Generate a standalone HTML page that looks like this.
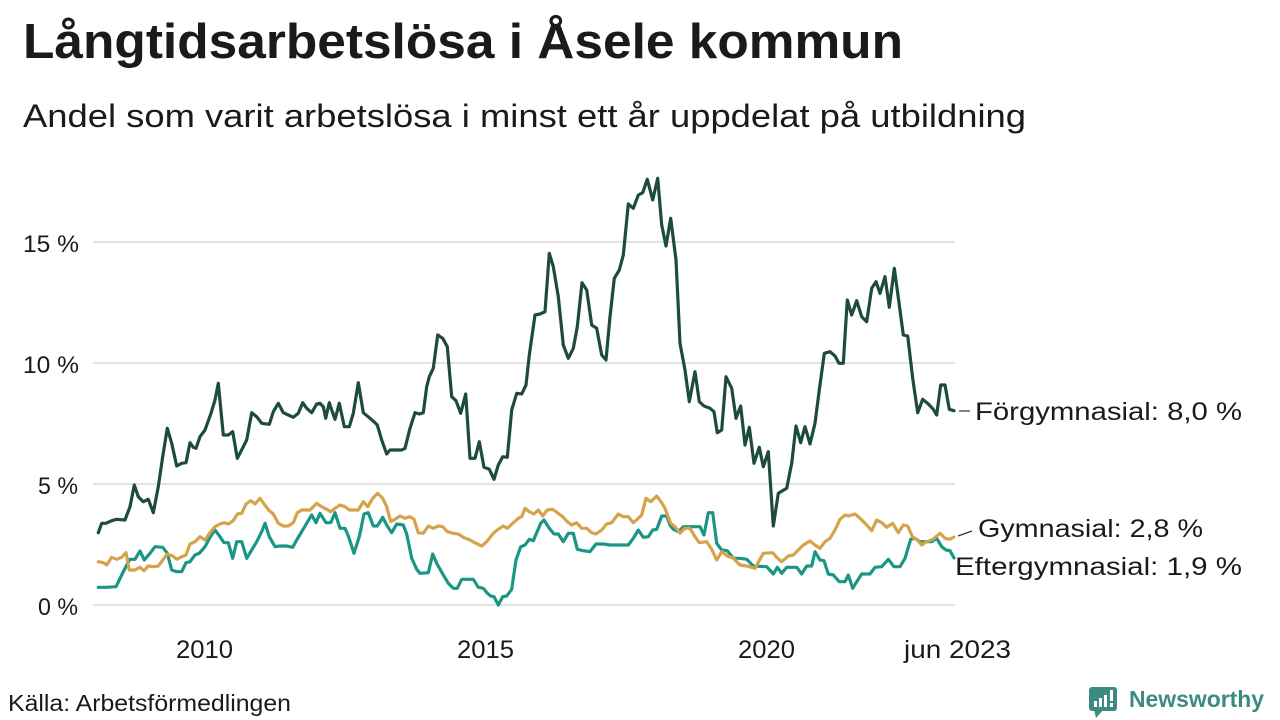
<!DOCTYPE html>
<html>
<head>
<meta charset="utf-8">
<style>
html,body{margin:0;padding:0;background:#fff;}
svg{display:block;}
text{font-family:"Liberation Sans","DejaVu Sans",sans-serif;fill:#1a1a1a;}
</style>
</head>
<body>
<svg width="1280" height="720" viewBox="0 0 1280 720" xmlns="http://www.w3.org/2000/svg">
<rect width="1280" height="720" fill="#fff"/>
<text x="23" y="58" font-size="49" font-weight="bold" textLength="880" lengthAdjust="spacingAndGlyphs">Långtidsarbetslösa i Åsele kommun</text>
<text x="23" y="127" font-size="32" textLength="1003" lengthAdjust="spacingAndGlyphs">Andel som varit arbetslösa i minst ett år uppdelat på utbildning</text>

<g stroke="#e3e3e3" stroke-width="2">
<line x1="93" y1="242" x2="955" y2="242"/>
<line x1="93" y1="363" x2="955" y2="363"/>
<line x1="93" y1="484" x2="955" y2="484"/>
<line x1="93" y1="605" x2="955" y2="605"/>
</g>

<g font-size="24">
<text x="23" y="252" textLength="56" lengthAdjust="spacingAndGlyphs">15 %</text>
<text x="23" y="373" textLength="56" lengthAdjust="spacingAndGlyphs">10 %</text>
<text x="38" y="494" textLength="40" lengthAdjust="spacingAndGlyphs">5 %</text>
<text x="38" y="615" textLength="40" lengthAdjust="spacingAndGlyphs">0 %</text>
</g>
<g font-size="25">
<text x="176" y="658" textLength="57" lengthAdjust="spacingAndGlyphs">2010</text>
<text x="457" y="658" textLength="57" lengthAdjust="spacingAndGlyphs">2015</text>
<text x="738" y="658" textLength="57" lengthAdjust="spacingAndGlyphs">2020</text>
<text x="904" y="658" textLength="107" lengthAdjust="spacingAndGlyphs">jun 2023</text>
</g>

<g fill="none" stroke-width="3.2" stroke-linejoin="round" stroke-linecap="round">
<polyline stroke="#1b9684" points="98.3,587.3 106.7,587.3 116,586.7 121.7,575 126.7,565 130,559.3 135,559.3 140,551 144.3,560 150,553.3 155,546.7 162.7,547.3 167.3,553.3 171.7,570 176.7,571.7 181.7,571.7 186,562.7 190,561.7 195,555 199.3,553.3 205,546.7 210,537.3 215,530 220,536.7 224,542.7 228.3,542.7 232.7,558.3 236.7,541.7 241.7,541.7 246.7,558.3 251.7,550 256.7,541.7 261.7,531.7 265,523.3 269.3,536.7 275,546.7 280,546 286.7,546 292.7,547.3 296.7,540 301.7,531.7 306.7,523.3 311.7,515 316,522.7 320,513.3 326,522.7 330.7,522.7 335,512.7 340,528.3 345,528.3 348.3,536 354,553.3 359.3,536.7 364,514 368.3,512.7 373.3,526 377.3,526 382.7,517.3 386.7,525 391.7,532.7 396.7,524 403.3,525 406.7,534 411.7,558.3 416.7,569.3 420,573.3 428.3,572.7 432.7,554 436.7,563.3 443.3,575 448.3,583.3 453.3,588.3 457.3,588.3 461.7,579.3 473.3,579.3 478.3,587.3 483.3,588.3 487.3,593.3 490.7,596 494,596.7 498.3,605 502.7,596.7 506.7,596 511.7,589.3 516,560 520.7,546.7 525,545 529.3,539.3 533.3,540.7 536.7,532.7 540.7,523.3 544,520 549.3,528.3 554,534 558.3,534 563.3,541.7 568.3,533.3 573.3,533.3 577.3,549.3 583.3,550.7 590,551.7 596,544 603.3,544 610,545 618.3,545 628.3,545 633.3,538.3 638.3,530 643.3,537.3 648.3,536.7 652.7,530 656.7,529.3 661.7,516 666.7,516 670,525 673.3,529.3 678.3,531.7 683.3,526.7 700,526.7 704,535 708.3,512.7 712.7,512.7 716.7,543.3 721.7,550 727.3,550.7 733.3,558.3 740,558.3 746.7,559.3 753.3,566 766.7,566.7 773.3,574 777.3,567.3 781.7,573.3 786.7,567.3 796.7,567.3 801.7,574 806.7,566 811.7,566 815,551.7 820,560 824,560.7 828.3,574 833.3,575 839.3,581.7 845,581.7 848.3,575 852.7,588.3 856.7,581.7 861.7,574 870,574 875,567.3 881.7,566.7 888.3,559.3 894,566.7 900,566.7 905,558.3 910.7,539.3 915,538.3 920,541.7 926,541.7 931.7,541.7 936.7,538.3 941.7,546.7 946,550 950,550.7 954,558"/>
<polyline stroke="#d6a34b" points="98.3,561.7 103.3,562.7 106.7,565 111.7,557.3 116.7,559.3 121.7,557.3 126,552.7 129.3,570 135,570 140,567.3 144,570.7 148.3,566 153.3,566.7 158.3,566 163.3,559.3 167.3,554 172.7,556 176.7,559.3 181.7,556.7 186,555 190,544 195,541.7 200,536.7 205,540 210,532.7 215,526.7 220,524 224,522.7 228.3,524 233.3,520.7 237.3,514 241.7,513.3 246,504 250.7,500.7 255,504 260,498.3 264,504 269.3,510.7 273.3,514 278.3,523.3 283.3,526 288.3,526 293.3,522.7 297.3,512.7 301.7,510 310,510 316.7,503.3 321.7,506.7 326.7,509.3 330.7,511.7 335,508.3 340,505 345,506.7 349.3,510 358.3,510 363.3,501.7 367.7,506.7 372.7,498.3 377.7,493.3 382.7,498.3 386.7,506.7 390.7,521.7 395,519.3 400,516 405,518.3 410,516.7 414,519.3 418.3,532.7 423.3,533.3 428.3,526 433.3,528.3 438.3,526 442.7,526.7 447.3,531.7 453.3,533.3 458.3,534 463.3,537.3 470,540 476,543.3 481.7,546 486.7,541.7 493.3,533.3 498.3,529.3 503.3,526 507.3,528.3 512.7,523.3 518.3,518.3 521.7,516.7 525,508.3 529.3,511.7 534,514 538.3,510 542.7,516 547.3,510 552.7,509.3 557.3,512.7 562.7,516.7 567.3,521.7 571.7,525 576.7,522.7 581.7,528.3 586.7,528.3 591.7,532.7 596,534 601.7,530 606.7,524 611.7,522.7 618.3,514 623.3,516.7 628.3,516.7 633.3,522.7 638.3,518.3 641.7,515 646,498.3 650.7,501.7 656.7,496 661.7,502.7 665,508.3 670.7,523.3 675,526.7 680,533.3 685,528.3 690,528.3 695,536.7 699.3,542.7 706.7,541.7 711.7,549.3 716.7,560 721.7,551.7 727.3,556 733.3,558.3 740,565 746.7,566 755,568.3 763.3,553.3 772.7,552.7 776.7,557.3 781.7,561.7 788.3,556 793.3,555 798.3,550 803.3,545 810,541 815,545 820,548.3 825,541.7 830,538.3 835,530 840,519.3 845,515 848.3,516 855,514 860,518.3 866.7,525 871.7,530.7 876.7,520 881.7,522.7 886.7,527.3 892.7,523.3 898.3,532.7 903.3,525 907.7,526 912.7,537.3 916.7,539.3 921.7,545 926.7,541.7 932.7,539.3 940,533.3 945,538.3 950,539.3 954,537"/>
<polyline stroke="#1d4b3f" points="98.3,532.7 101.7,523.3 106,523.3 111.7,520.7 116.7,519.3 125,520 130,506.7 134.3,485 138.3,496.7 143.3,501.7 148.3,499.3 153.3,512.7 158.3,486.7 162.7,456.7 167.3,428.3 171.7,443.3 176.7,466 181.7,463.3 186,462.7 190,442.7 193.3,447.3 196,448.3 200,436.7 205,430 211,413.3 215,400 218.3,383.3 223.3,435 228.3,435 232.7,431.7 237.3,458.3 243.3,446.7 246.7,440 251.7,412.7 256.7,416.7 261.7,423.3 269.3,424.3 273.3,411.7 278.3,403.3 283.3,412.7 288.3,415 293.3,417.3 298.3,413.3 302.7,402.7 306.7,408.3 311.7,412.7 316.7,404 320,403.3 323.3,406.7 325.7,418.3 329.3,402.7 331.7,410 335,419.3 339.3,403.3 344.3,426.7 349.3,426.7 353.3,413.3 358.3,382.7 363.3,412.7 370,418.3 375,422.7 377.3,425 381.7,440 386.7,454 390,450 401.7,450 405,448.3 410,428.3 415,412.7 419.3,414 423.3,412.7 426.7,386.7 429.3,376.7 433.3,368.3 437.7,335 442.7,338.3 447.3,346.7 451.7,396.7 456,400.7 460.7,413.3 465.7,394 470,458.3 475,458.3 479.3,441.7 484,467.3 489.3,469.3 494,479.3 498.3,465 502.7,456.7 507.3,457.3 511.7,410 516.7,393.3 521.7,394 526,385 529.3,355 535,315 540,314 545,311.7 549.3,253.3 553.3,266.7 558.3,296.7 563.3,345 568.3,358.3 573.3,348.3 577.3,326.7 582,282.7 586.7,290 591.7,325 596.7,328.3 601.7,355 606,360 610,316.7 614.3,278.3 619.3,270 623.3,255 628.3,204 633.3,208.3 638.3,195 642.7,192.7 647.3,179.3 652.7,200 657.7,178.3 661.7,225 666,246 670.7,218.3 676,260 680,343.3 685,370 689.3,401.7 695,371.7 699.3,401.7 704,406 710,408.3 714,411.7 717.3,432.7 721.7,430 726,376.7 731.7,388.3 736,418.3 740.7,406 745,445 749.3,427.3 754,463.3 759.3,447.3 763.3,466.7 768.3,451.7 773.3,526 778.3,493.3 786.7,488.3 791.7,463.3 796,426 800.7,442.7 805,426.7 810,444 815,423.3 819.3,390 824.3,353.3 830,351.7 835,356 839,363.3 843.3,363.3 847.3,300 851.7,315 856.7,300.7 861.7,316.7 866.7,321.7 871.7,288.3 876,281.7 880,293.3 885,276.7 889.3,307.3 894.3,268.3 899.3,305 903.3,335 907.7,336 912.7,378.3 917.7,412.7 922.7,399.3 928.3,404 933.3,409.3 936.7,415 940.7,385 945,385 949.3,409.3 954,410.7"/>
</g>

<g stroke="#333" stroke-width="1.2">
<line x1="959" y1="411" x2="970" y2="411"/>
<line x1="958" y1="536" x2="972" y2="531"/>
</g>
<g font-size="25">
<text x="975" y="420" textLength="267" lengthAdjust="spacingAndGlyphs">Förgymnasial: 8,0 %</text>
<text x="978" y="537" textLength="225" lengthAdjust="spacingAndGlyphs">Gymnasial: 2,8 %</text>
<text x="955" y="575" textLength="287" lengthAdjust="spacingAndGlyphs">Eftergymnasial: 1,9 %</text>
</g>

<text x="8" y="711" font-size="23" textLength="283" lengthAdjust="spacingAndGlyphs">Källa: Arbetsförmedlingen</text>

<g>
<rect x="1089" y="687" width="28" height="24" rx="3" fill="#3d8b80"/>
<polygon points="1094,709 1104,709 1096,718" fill="#3d8b80"/>
<rect x="1094" y="701" width="3" height="6" fill="#fff"/>
<rect x="1099" y="698" width="3" height="9" fill="#fff"/>
<rect x="1104" y="695" width="3" height="12" fill="#fff"/>
<rect x="1110" y="690" width="3" height="11" fill="#fff"/>
<rect x="1110" y="703" width="3" height="4" fill="#fff"/>
</g>
<text x="1129" y="707" font-size="23" font-weight="bold" style="fill:#3d8b80" textLength="135" lengthAdjust="spacingAndGlyphs">Newsworthy</text>
</svg>
</body>
</html>
